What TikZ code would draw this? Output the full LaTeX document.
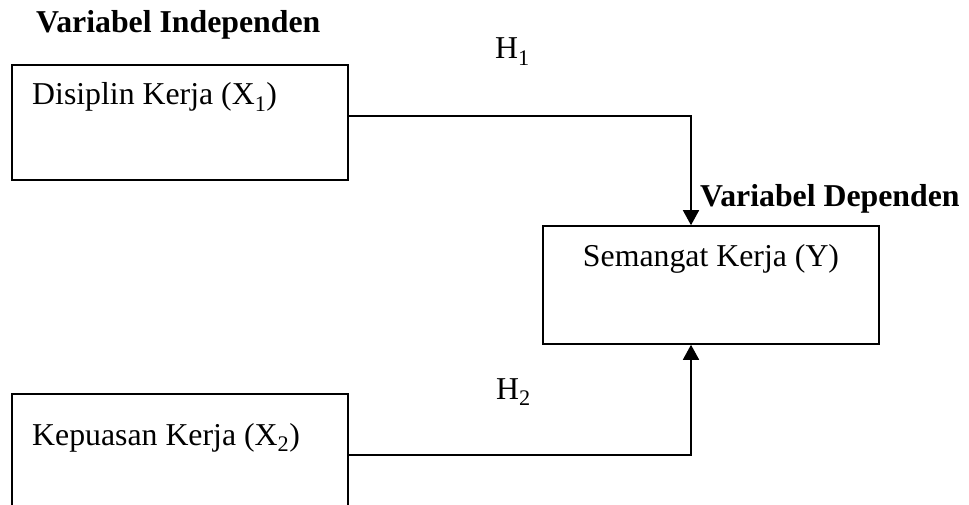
\documentclass[tikz,border=0pt]{standalone}
\usepackage{fontspec}
\setmainfont{Liberation Serif}
\usetikzlibrary{arrows.meta}
\tikzset{
  box/.style={draw, line width=1.6pt, minimum width=336pt, inner sep=0pt, rectangle},
  lbl/.style={inner sep=0pt, anchor=base west},
  conn/.style={line width=1.6pt},
  arr/.style={conn, -{Triangle[width=16pt,length=15pt]}}
}
\begin{document}
\begin{tikzpicture}[x=1pt,y=1pt,font=\fontsize{31.8}{38}\selectfont]
\useasboundingbox (0,0) rectangle (969,504);
\clip (0,0) rectangle (969,504);
% boxes
\node[box, minimum height=115pt] (box1) at (180,381.5) {};
\node[box, minimum height=118pt] (boxY) at (711,219) {};
\node[box, minimum height=115pt] (box2) at (180,52.5) {};
% texts
\node[lbl] (vi) at (36,471) {\bfseries Variabel Independen};
\node[lbl] (h1) at (495,445) {H\textsubscript{1}};
\node[lbl] (x1) at (32,399) {Disiplin Kerja (X\textsubscript{1})};
\node[lbl] (vd) at (700,297) {\bfseries Variabel Dependen};
\node[inner sep=0pt, anchor=base] (y) at (711,237) {Semangat Kerja (Y)};
\node[lbl] (h2) at (496,105) {H\textsubscript{2}};
\node[lbl] (x2) at (32,59) {Kepuasan Kerja (X\textsubscript{2})};
% connectors
\coordinate (c1) at (691,388);
\coordinate (c2) at (691,49);
\draw[arr] ([yshift=6.5pt]box1.east) -- (c1) -- (c1 |- boxY.north);
\draw[arr] ([yshift=-3.5pt]box2.east) -- (c2) -- (c2 |- boxY.south);
\end{tikzpicture}
\end{document}
